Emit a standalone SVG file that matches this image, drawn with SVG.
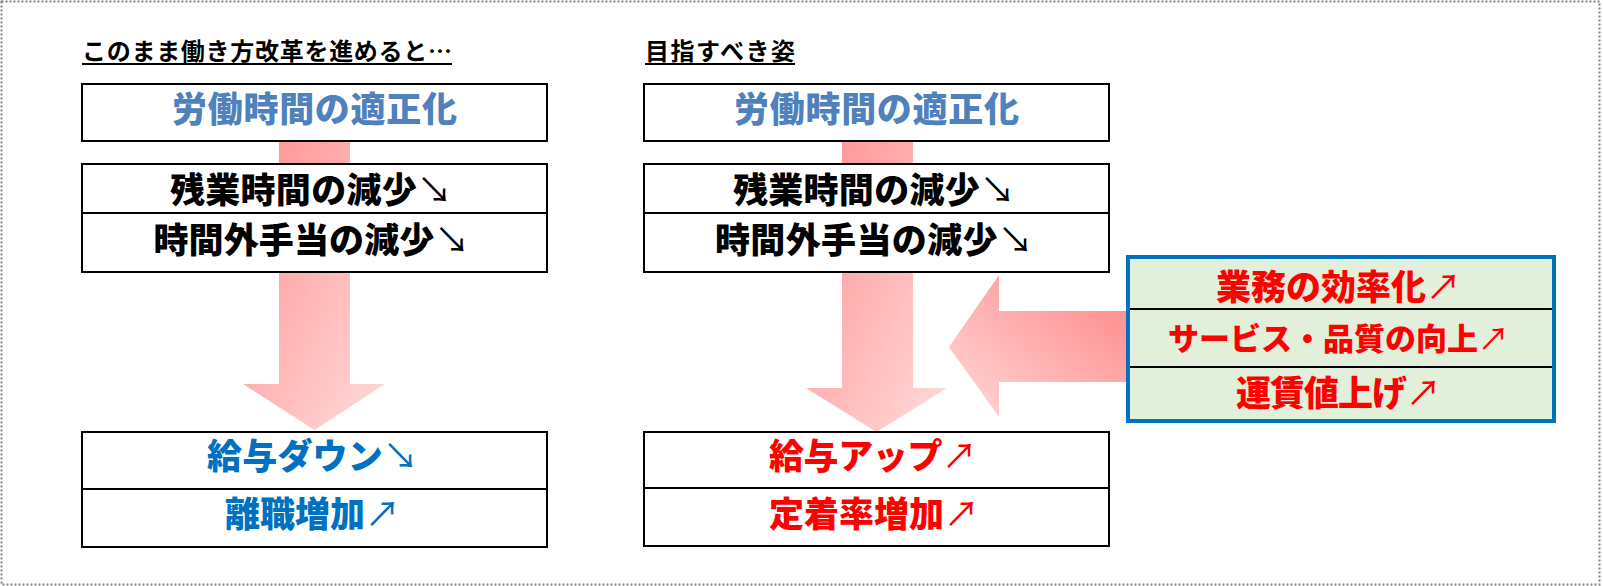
<svg xmlns="http://www.w3.org/2000/svg" width="1603" height="586" viewBox="0 0 1603 586">
<defs>
<linearGradient id="gDown" x1="0" y1="0" x2="1" y2="1">
<stop offset="0" stop-color="#FF9090"/>
<stop offset="1" stop-color="#FFDCDC"/>
</linearGradient>
<linearGradient id="gLeft" x1="1" y1="0" x2="0" y2="1">
<stop offset="0" stop-color="#FF8585"/>
<stop offset="1" stop-color="#FFDADA"/>
</linearGradient>
<style>
.box{fill:#ffffff;stroke:#000000;stroke-width:2}
.div{stroke:#000000;stroke-width:2}
.t{font-family:"Noto Sans CJK JP","Noto Sans CJK SC",sans-serif;font-weight:900;font-size:35px;text-anchor:middle}
.a{font-weight:400}
.title{font-family:"Noto Sans CJK JP","Noto Sans CJK SC",sans-serif;font-weight:700;font-size:24px;fill:#000000}
.ul{stroke:#000000;stroke-width:2}
.steel{fill:#4F81BD}
.blk{fill:#000000}
.blu{fill:#0070C0}
.red{fill:#FF0000}
</style>
</defs>
<rect x="1.5" y="1.5" width="1598" height="583" fill="#ffffff" stroke="#808080" stroke-width="2" stroke-dasharray="2 2"/>
<g id="connectors">
<polygon points="279,141 350,141 350,384 385,384 314.5,430 243,384 279,384" fill="url(#gDown)"/>
<polygon points="842,142 913,142 913,388 947,388 876.5,432 806,388 842,388" fill="url(#gDown)"/>
<polygon points="1126,311 1126,382 999,382 999,417 949,347 999,275 999,311" fill="url(#gLeft)"/>
</g>
<g id="title-left">
<text class="title" x="82" y="60" textLength="370">このまま働き方改革を進めると…</text>
<line class="ul" x1="82" y1="64" x2="452" y2="64"/>
</g>
<g id="title-right">
<text class="title" x="645" y="60" textLength="150">目指すべき姿</text>
<line class="ul" x1="645" y1="64" x2="795" y2="64"/>
</g>
<g id="left-labor">
<rect class="box" x="82" y="84" width="465" height="57"/>
<text class="t steel" x="314.5" y="122" textLength="285">労働時間の適正化</text>
</g>
<g id="left-reduce">
<rect class="box" x="82" y="164" width="465" height="108"/>
<line class="div" x1="82" y1="213" x2="547" y2="213"/>
<text class="t blk" x="311" y="203" textLength="282">残業時間の減少<tspan class="a">↘</tspan></text>
<text class="t blk" x="311.5" y="253" textLength="316">時間外手当の減少<tspan class="a">↘</tspan></text>
</g>
<g id="left-result">
<rect class="box" x="82" y="432" width="465" height="115"/>
<line class="div" x1="82" y1="489" x2="547" y2="489"/>
<text class="t blu" x="312.5" y="469" textLength="211">給与ダウン<tspan class="a">↘</tspan></text>
<text class="t blu" x="312.5" y="527" textLength="175">離職増加<tspan class="a">↗</tspan></text>
</g>
<g id="right-labor">
<rect class="box" x="644" y="84" width="465" height="57"/>
<text class="t steel" x="876.5" y="122" textLength="285">労働時間の適正化</text>
</g>
<g id="right-reduce">
<rect class="box" x="644" y="164" width="465" height="108"/>
<line class="div" x1="644" y1="213" x2="1109" y2="213"/>
<text class="t blk" x="874" y="203" textLength="282">残業時間の減少<tspan class="a">↘</tspan></text>
<text class="t blk" x="874" y="253" textLength="318">時間外手当の減少<tspan class="a">↘</tspan></text>
</g>
<g id="right-result">
<rect class="box" x="644" y="432" width="465" height="114"/>
<line class="div" x1="644" y1="488" x2="1109" y2="488"/>
<text class="t red" x="873" y="469" textLength="208">給与アップ<tspan class="a">↗</tspan></text>
<text class="t red" x="874" y="527" textLength="210">定着率増加<tspan class="a">↗</tspan></text>
</g>
<g id="measures">
<rect x="1128" y="257" width="426" height="164" fill="#E2EFDA" stroke="#0070C0" stroke-width="4"/>
<line class="div" x1="1130" y1="309" x2="1552" y2="309"/>
<line class="div" x1="1130" y1="367" x2="1552" y2="367"/>
<text class="t red" x="1338.5" y="300" textLength="245">業務の効率化<tspan class="a">↗</tspan></text>
<text class="t red" x="1338.5" y="349.5" textLength="341" style="font-size:31px">サービス・品質の向上<tspan class="a">↗</tspan></text>
<text class="t red" x="1338.5" y="406" textLength="205">運賃値上げ<tspan class="a">↗</tspan></text>
</g>
</svg>
